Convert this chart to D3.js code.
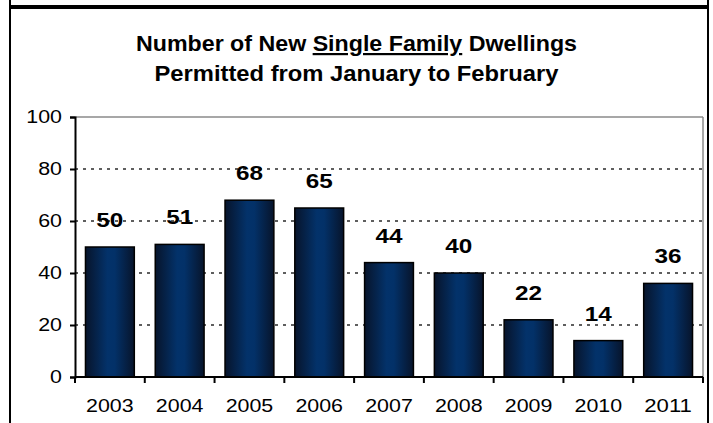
<!DOCTYPE html>
<html>
<head>
<meta charset="utf-8">
<script src="https://cdn.jsdelivr.net/npm/d3@7"></script>
<style>
  html, body { margin: 0; padding: 0; background: #fff; }
  svg { display: block; font-family: "Liberation Sans", Arial, sans-serif; }
</style>
</head>
<body>
<svg id="chart" width="713" height="423"></svg>
<script>
// Single family dwelling permits, January–February of each year
const years = ["2003", "2004", "2005", "2006", "2007", "2008", "2009", "2010", "2011"];
const permits = [50, 51, 68, 65, 44, 40, 22, 14, 36];
const yTicks = [0, 20, 40, 60, 80, 100];
const titleLine1 = ["Number of New ", "Single Family", " Dwellings"];
const titleLine2 = "Permitted from January to February";

const W = 713, H = 423;
const plot = { left: 75, right: 703, top: 117, bottom: 377 };
// the chart's lettering is set slightly wide; advance per character in px
const tickDigit = 11.9;
const valueDigit = 13.5;

const svg = d3.select("#chart");

// bar fill: dark edges, lighter navy centre
const grad = svg.append("defs").append("linearGradient")
  .attr("id", "barFill").attr("x1", "0%").attr("x2", "100%").attr("y1", "0%").attr("y2", "0%");
grad.append("stop").attr("offset", "0%").attr("stop-color", "#07142b");
grad.append("stop").attr("offset", "45%").attr("stop-color", "#03326a");
grad.append("stop").attr("offset", "60%").attr("stop-color", "#033168");
grad.append("stop").attr("offset", "100%").attr("stop-color", "#07142b");

// outer frame
svg.append("rect").attr("x", 9).attr("y", 0).attr("width", 2).attr("height", H).attr("fill", "#000");
svg.append("rect").attr("x", 707).attr("y", 0).attr("width", 2).attr("height", H).attr("fill", "#000");
svg.append("rect").attr("x", 9).attr("y", 5).attr("width", 700).attr("height", 4).attr("fill", "#000");

// title
const t1 = svg.append("text")
  .attr("x", W / 2).attr("y", 51)
  .attr("text-anchor", "middle")
  .attr("xml:space", "preserve")
  .attr("font-weight", "bold").attr("font-size", 22).attr("fill", "#000")
  .attr("textLength", 441).attr("lengthAdjust", "spacingAndGlyphs");
titleLine1.forEach((s, i) => {
  t1.append("tspan").text(s)
    .style("text-decoration", i === 1 ? "underline" : "none");
});
svg.append("text")
  .attr("x", W / 2).attr("y", 81)
  .attr("text-anchor", "middle")
  .attr("font-weight", "bold").attr("font-size", 22).attr("fill", "#000")
  .attr("textLength", 404).attr("lengthAdjust", "spacingAndGlyphs")
  .text(titleLine2);

// scales
const x = d3.scaleBand().domain(years)
  .range([plot.left, plot.right]).paddingInner(0.3).paddingOuter(0.15);
const y = d3.scaleLinear().domain([0, 100]).range([plot.bottom, plot.top]);

// grid lines (dotted) for inner ticks, solid grey frame on top and right
svg.append("g").selectAll("line")
  .data(yTicks.filter(v => v > 0 && v < 100))
  .join("line")
  .attr("x1", plot.left).attr("x2", plot.right)
  .attr("y1", d => y(d)).attr("y2", d => y(d))
  .attr("stroke", "#2a2a2a").attr("stroke-width", 1.6)
  .attr("stroke-dasharray", "3,5");
svg.append("line")
  .attr("x1", plot.left).attr("x2", plot.right)
  .attr("y1", y(100)).attr("y2", y(100))
  .attr("stroke", "#8a8a8a").attr("stroke-width", 1.5);
svg.append("line")
  .attr("x1", plot.right).attr("x2", plot.right)
  .attr("y1", y(100)).attr("y2", y(0))
  .attr("stroke", "#8a8a8a").attr("stroke-width", 1.5);

const rows = years.map((yr, i) => ({ yr, v: permits[i] }));

// bars
svg.append("g").selectAll("rect")
  .data(rows)
  .join("rect")
  .attr("x", d => x(d.yr))
  .attr("y", d => y(d.v))
  .attr("width", x.bandwidth())
  .attr("height", d => y(0) - y(d.v))
  .attr("fill", "url(#barFill)")
  .attr("stroke", "#000").attr("stroke-width", 1.5);

// value labels
svg.append("g").selectAll("text")
  .data(rows)
  .join("text")
  .attr("x", d => x(d.yr) + x.bandwidth() / 2)
  .attr("y", d => y(d.v) - 20)
  .attr("text-anchor", "middle")
  .attr("font-weight", "bold").attr("font-size", 21).attr("fill", "#000")
  .attr("textLength", d => String(d.v).length * valueDigit)
  .attr("lengthAdjust", "spacingAndGlyphs")
  .text(d => d.v);

// y axis
const yAxis = d3.axisLeft(y).tickValues(yTicks).tickSize(5).tickPadding(8);
const gy = svg.append("g").attr("transform", `translate(${plot.left},0)`).call(yAxis);
gy.select(".domain").attr("stroke", "#000").attr("stroke-width", 2);
gy.selectAll(".tick line").attr("stroke", "#000").attr("stroke-width", 2);
gy.selectAll(".tick text")
  .attr("font-size", 18).attr("font-family", "Liberation Sans, Arial, sans-serif").attr("fill", "#000")
  .attr("textLength", d => String(d).length * tickDigit)
  .attr("lengthAdjust", "spacingAndGlyphs");

// x axis: ticks at category boundaries
const step = x.step();
const bounds = d3.range(years.length + 1).map(i => plot.left + i * step);
const gx = svg.append("g");
gx.append("line")
  .attr("x1", plot.left).attr("x2", plot.right)
  .attr("y1", plot.bottom).attr("y2", plot.bottom)
  .attr("stroke", "#000").attr("stroke-width", 2);
gx.selectAll("line.tk").data(bounds).join("line").attr("class", "tk")
  .attr("x1", d => d).attr("x2", d => d)
  .attr("y1", plot.bottom).attr("y2", plot.bottom + 6)
  .attr("stroke", "#000").attr("stroke-width", 2);
gx.selectAll("text").data(years).join("text")
  .attr("x", d => x(d) + x.bandwidth() / 2)
  .attr("y", plot.bottom + 35)
  .attr("text-anchor", "middle")
  .attr("font-size", 18).attr("fill", "#000")
  .attr("textLength", d => d.length * tickDigit)
  .attr("lengthAdjust", "spacingAndGlyphs")
  .text(d => d);
</script>
</body>
</html>
